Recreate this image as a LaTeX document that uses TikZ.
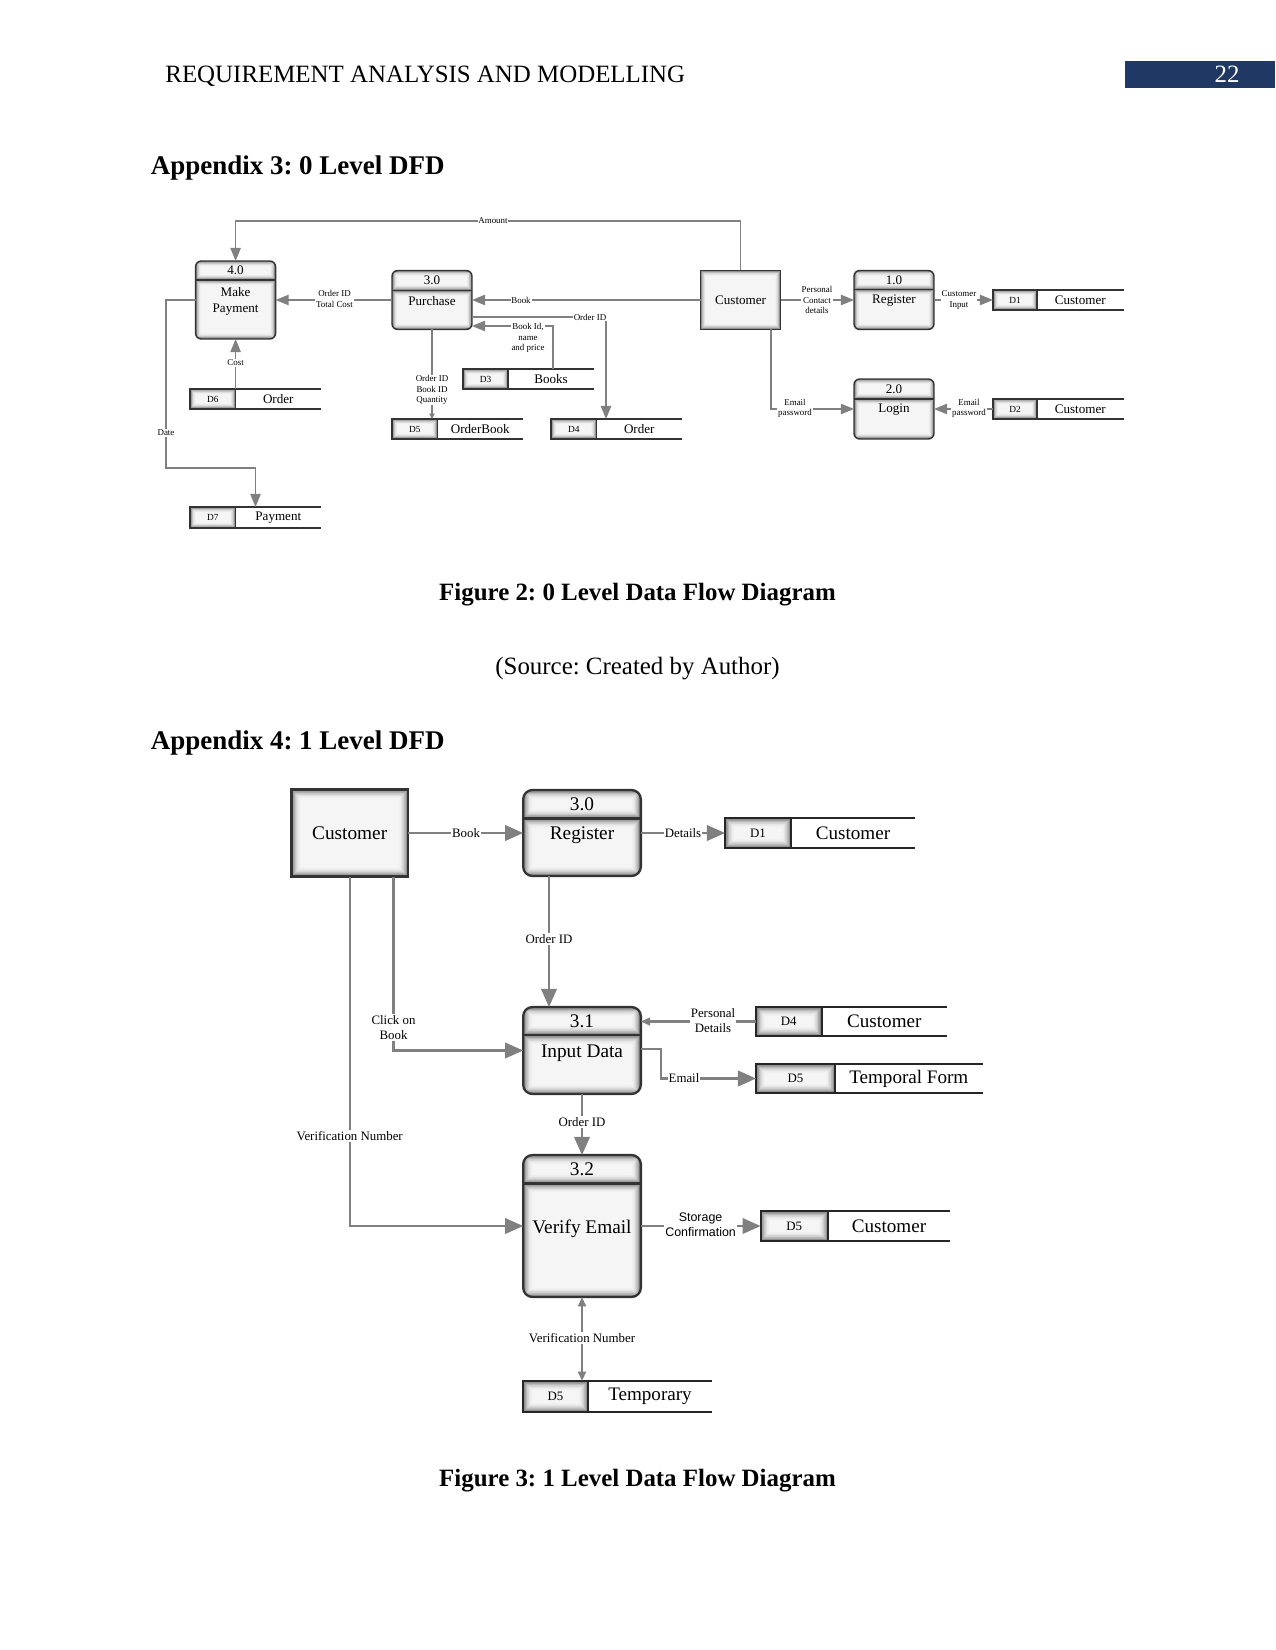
\documentclass[tikz,border=0pt]{standalone}
\usepackage{fontspec}
\setmainfont{Liberation Serif}
\newfontfamily\lsans{Liberation Sans}
\usetikzlibrary{arrows.meta,calc}
\frenchspacing
\definecolor{navy}{RGB}{31,56,100}
\def\pxu{0.4818pt}
\def\procR{2.8pt}
\def\glowband{5}
% rectangular inner glow between two corners (north west, south east)
\newcommand\glowbox[3]{%
  \foreach \k in {0,...,16}{%
    \pgfmathsetmacro\gl{4+52*(1-\k/16)^2.2}%
    \pgfmathsetmacro\dd{\k*#3/16}%
    \fill[black!\gl] ([shift={(\dd,\dd)}]#1) rectangle ([shift={(-\dd,-\dd)}]#2);
  }%
}
% process box: name, x, y, w, h, header h, number, text, text offset below divider
\newcommand\dfdproc[9]{%
  \node[procnode, minimum width=#4*\pxu, minimum height=#5*\pxu] (#1) at (#2,#3) {};
  \coordinate (#1dw) at ([yshift=-#6*\pxu]#1.north west);
  \coordinate (#1de) at ([yshift=-#6*\pxu]#1.north east);
  \begin{scope}
    \clip[rounded corners=\procR] (#1.south west) rectangle (#1.north east);
    \glowbox{#1.north west}{#1de}{\glowband}
    \glowbox{#1dw}{#1.south east}{\glowband}
  \end{scope}
  \draw[procborder, rounded corners=\procR] (#1.south west) rectangle (#1.north east);
  \draw[procborder] (#1dw) -- (#1de);
  \node[procnum] (#1n) at ([yshift=-#6*\pxu/2]#1.north) {#7};
  \node[proctxt] (#1t) at ([yshift=-#6*\pxu-#9*\pxu]#1.north) {#8};
}
% external entity: name, x, y, w, h, text
\newcommand\dfdent[6]{%
  \node[procnode, minimum width=#4*\pxu, minimum height=#5*\pxu] (#1) at (#2,#3) {};
  \glowbox{#1.north west}{#1.south east}{\glowband}
  \draw[procborder] (#1.north west) rectangle (#1.south east);
  \node[enttxt] (#1t) at (#1) {#6};
}
% data store: name, x left, y top, w, h, id width, id, text
\newcommand\dfdstore[8]{%
  \node[procnode, anchor=north west, minimum width=#4*\pxu, minimum height=#5*\pxu] (#1) at (#2,#3) {};
  \coordinate (#1ds) at ([xshift=#6*\pxu]#1.south west);
  \glowbox{#1.north west}{#1ds}{\glowband}
  \draw[storeline] (#1.north west) rectangle (#1ds);
  \draw[storeline] (#1.north west) -- (#1.north east) (#1.south west) -- (#1.south east);
  \node[stid] (#1i) at ([xshift=#6*\pxu/2]#1.west) {#7};
  \node[stname] (#1m) at ([xshift=#4*\pxu/2+#6*\pxu/2]#1.west) {#8};
}
\tikzset{
  procnode/.style={rectangle, inner sep=0pt, outer sep=0pt},
  pagetxt/.style={inner sep=0pt, font=\fontsize{12}{14}\selectfont},
  headtxt/.style={inner sep=0pt, anchor=base west, font=\fontsize{13}{15}\selectfont\bfseries},
  captxt/.style={inner sep=0pt, anchor=base, font=\fontsize{12}{14}\selectfont\bfseries},
}
\begin{document}
\begin{tikzpicture}[x=0.4818pt, y=-0.4818pt]
\useasboundingbox (0,0) rectangle (1275,1650);
% page header
\fill[navy] (1124.6,61) rectangle (1275,88.4);
\node[pagetxt, anchor=base, text=white] (pgnum) at (1227,83) {22};
\node[pagetxt, anchor=base west] (hdr) at (165,83) {REQUIREMENT ANALYSIS AND MODELLING};
\node[headtxt] (app3) at (150.4,174.6) {Appendix 3: 0 Level DFD};
\node[captxt] (fig2) at (637.5,600) {Figure 2: 0 Level Data Flow Diagram};
\node[pagetxt, anchor=base] (src) at (637.5,674.5) {(Source: Created by Author)};
\node[headtxt] (app4) at (150.4,749) {Appendix 4: 1 Level DFD};
\node[captxt] (fig3) at (637.5,1486.5) {Figure 3: 1 Level Data Flow Diagram};

% ================= LEVEL 0 =================
\begin{scope}[
  procborder/.style={draw=black!80, line width=0.7pt},
  procnum/.style={inner sep=0pt, font=\fontsize{6.3}{7}\selectfont},
  proctxt/.style={inner sep=0pt, align=center, font=\fontsize{6.3}{7.7}\selectfont},
  enttxt/.style={inner sep=0pt, font=\fontsize{6.3}{7}\selectfont},
  stid/.style={inner sep=0pt, font=\fontsize{4.5}{5}\selectfont},
  stname/.style={inner sep=0pt, font=\fontsize{6.3}{7}\selectfont},
  storeline/.style={draw=black!80, line width=0.7pt},
  flow/.style={draw=black!50, line width=0.65pt, -{Triangle[length=6.3pt,width=5pt]}},
  flowsm/.style={draw=black!50, line width=0.65pt, -{Triangle[length=2.6pt,width=2.6pt]}},
  lbl/.style={fill=white, inner sep=0.4pt, align=center, font=\fontsize{4.3}{5}\selectfont}]
\def\procR{2.8pt}
\def\glowband{6}
\dfdproc{p4}{235.6}{300}{80}{78}{19}{4.0}{Make\\Payment}{21}
\dfdproc{p3}{432}{300}{80}{59}{20}{3.0}{Purchase}{11}
\dfdproc{p1}{894}{300}{80}{59}{19}{1.0}{Register}{11}
\dfdproc{p2}{894}{409}{80}{60}{20}{2.0}{Login}{11}
\dfdent{c0}{740.6}{300}{80}{59}{Customer}
\dfdstore{d6}{190}{389}{131}{20}{45.6}{D6}{Order}
\dfdstore{d7}{190}{507}{131}{21}{45.6}{D7}{Payment}
\dfdstore{d5}{392}{419}{131}{20}{45.6}{D5}{OrderBook}
\dfdstore{d3}{463}{369}{131}{20}{45}{D3}{Books}
\dfdstore{d4}{551}{419}{131}{20}{45.5}{D4}{Order}
\dfdstore{d1}{993}{290}{130.5}{20}{44}{D1}{Customer}
\dfdstore{d2}{993}{399}{130.5}{20}{44}{D2}{Customer}
% flows
\draw[flow] (c0.north) |- (p4.north |- 0,221) -- (p4.north);
\draw[flow] (p3.west) -- (p4.east);
\draw[flow] (c0.west) -- (p3.east);
\draw[flow] (p3.east |- 0,317) -| (d4.north -| 606,0);
\draw[flow] (d3.north -| 553,0) |- (p3.east |- 0,326);
\draw[flowsm] (p3.south) -- (d5.north -| p3.south);
\draw[flow] (d6.north -| p4.south) -- (p4.south);
\draw[flow] (p4.west) -| (166,468) -| (d7.north);
\draw[flow] (c0.east) -- (p1.west);
\draw[flow] (p1.east) -- (d1.west);
\draw[flow] (c0.south -| 771,0) |- (p2.west);
\draw[flow] (d2.west) -- (p2.east);
% labels
\node[lbl] (l0amount) at (493,221) {Amount};
\node[lbl] (l0otc) at (334.5,299) {Order ID\\Total Cost};
\node[lbl] (l0book) at (521,300) {Book};
\node[lbl] (l0oid) at (590,317) {Order ID};
\node[lbl] (l0bid) at (528,338) {Book Id,\\name\\and price};
\node[lbl] (l0obq) at (432,390) {Order ID\\Book ID\\Quantity};
\node[lbl] (l0cost) at (235.6,363) {Cost};
\node[lbl] (l0date) at (166,433) {Date};
\node[lbl] (l0pcd) at (817,300) {Personal\\Contact\\details};
\node[lbl] (l0ci) at (959,300) {Customer\\Input};
\node[lbl] (l0ep1) at (795,408.5) {Email\\password};
\node[lbl] (l0ep2) at (969,408.5) {Email\\password};
\end{scope}

% ================= LEVEL 1 =================
\begin{scope}[
  procborder/.style={draw=black!80, line width=1.1pt},
  procnum/.style={inner sep=0pt, font=\fontsize{9.3}{10}\selectfont},
  proctxt/.style={inner sep=0pt, align=center, font=\fontsize{9.3}{11}\selectfont},
  enttxt/.style={inner sep=0pt, font=\fontsize{9.3}{10}\selectfont},
  stid/.style={inner sep=0pt, font=\fontsize{6.2}{7}\selectfont},
  stname/.style={inner sep=0pt, font=\fontsize{9.2}{10}\selectfont},
  storeline/.style={draw=black!85, line width=1.05pt},
  flow/.style={draw=black!50, line width=1pt, -{Triangle[length=8.7pt,width=7.5pt]}},
  flowsm/.style={draw=black!50, line width=1pt, -{Triangle[length=4.5pt,width=3.8pt]}},
  flowsmb/.style={draw=black!50, line width=1pt, {Triangle[length=4.5pt,width=3.8pt]}-{Triangle[length=4.5pt,width=3.8pt]}},
  lbl/.style={fill=white, inner sep=0.5pt, align=center, font=\fontsize{6.2}{7.2}\selectfont}]
\def\procR{4.5pt}
\def\glowband{10}
\dfdent{c1}{349.7}{833}{116.6}{87}{Customer}
\dfdproc{q30}{582}{833}{117.7}{86}{28.5}{3.0}{Register}{16.5}
\dfdproc{q31}{582}{1050.5}{117.7}{87}{28}{3.1}{Input Data}{18}
\dfdproc{q32}{582}{1226}{117.7}{142}{28.5}{3.2}{Verify Email}{45}
\dfdstore{e1}{725}{818}{190}{30}{66}{D1}{Customer}
\dfdstore{e4}{756}{1007}{191}{29}{65.6}{D4}{Customer}
\dfdstore{e5a}{756}{1064}{226.6}{29}{79}{D5}{Temporal Form}
\dfdstore{e5c}{760.6}{1211}{189.4}{30}{67.4}{D5}{Customer}
\dfdstore{e5t}{523}{1381}{189}{31}{65}{D5}{Temporary}
% flows
\draw[flow] (c1.east) -- (q30.west);
\draw[flow] (q30.east) -- (e1.west);
\draw[flow] (q30.south -| 549,0) -- (q31.north -| 549,0);
\draw[flowsm] (e4.west) -- (q31.east |- e4.west);
\draw[flow] (q31.east |- 0,1049) -| (e5a.west -| 661,0) -- (e5a.west);
\draw[flow] (q31.south) -- (q32.north);
\draw[flow] (c1.south) |- (q32.west);
\draw[flow] (c1.south -| 393.5,0) |- (q31.west);
\draw[flow] (q32.east) -- (e5c.west);
\draw[flowsmb] (q32.south) -- (e5t.north -| q32.south);
% labels
\node[lbl] (l1book) at (466,833) {Book};
\node[lbl] (l1det) at (683,833) {Details};
\node[lbl] (l1oid1) at (549,939) {Order ID};
\node[lbl] (l1pd) at (713,1021) {Personal\\Details};
\node[lbl] (l1email) at (684,1078.5) {Email};
\node[lbl] (l1oid2) at (582,1122) {Order ID};
\node[lbl] (l1vn1) at (349.7,1136) {Verification Number};
\node[lbl] (l1cob) at (393.5,1027.5) {Click on\\Book};
\node[lbl, font=\lsans\fontsize{6}{7.2}\selectfont] (l1sc) at (700.6,1225) {Storage\\Confirmation};
\node[lbl] (l1vn2) at (582,1338) {Verification Number};
\end{scope}
\end{tikzpicture}
\end{document}
